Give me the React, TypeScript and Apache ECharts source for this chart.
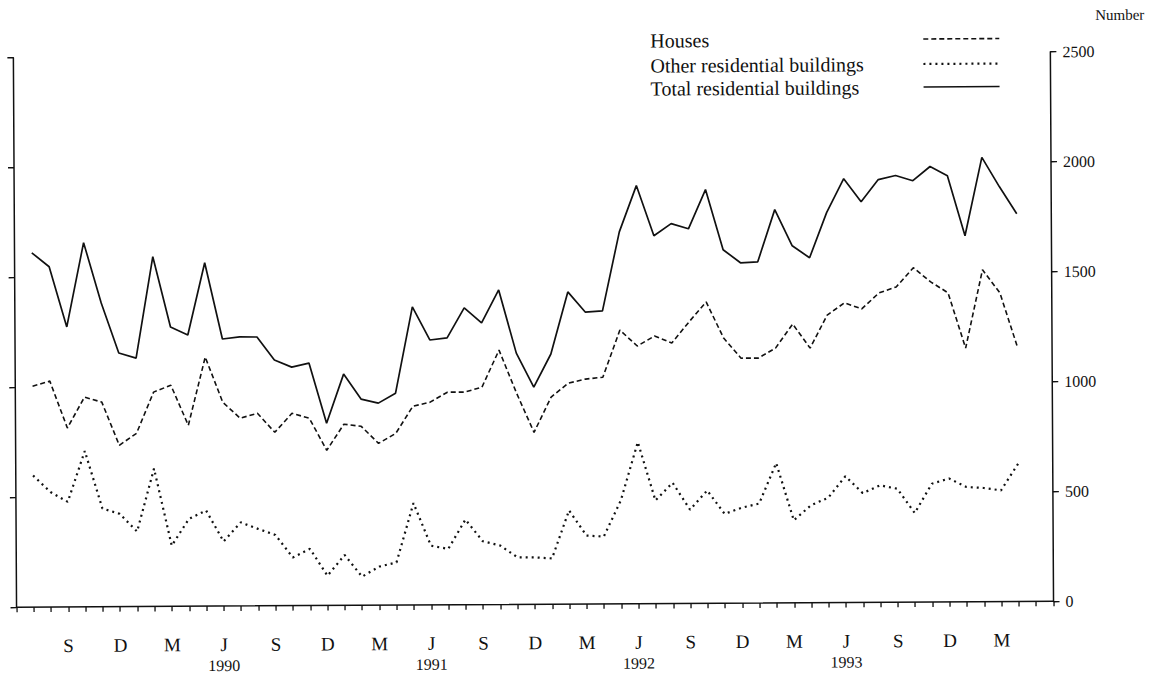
import React, { useEffect, useRef } from "react";
import * as echarts from "echarts";

// Months on the axis: June 1989 .. June 1994 (61 positions)
const MONTH_NAMES = ["Jan", "Feb", "Mar", "Apr", "May", "Jun", "Jul", "Aug", "Sep", "Oct", "Nov", "Dec"];
const START_YEAR = 1989;
const START_MONTH = 5; // June (0-based)
const AXIS_MONTHS = 61;
const categories: string[] = [];
for (let i = 0; i < AXIS_MONTHS; i++) {
  const m = (START_MONTH + i) % 12;
  const y = START_YEAR + Math.floor((START_MONTH + i) / 12);
  categories.push(`${MONTH_NAMES[m]} ${y}`);
}

// Tick labels shown under the axis
const monthLetters: Record<string, string> = { Sep: "S", Dec: "D", Mar: "M", Jun: "J" };
const yearLabelsForJune = ["1990", "1991", "1992", "1993"];

// Series values, July 1989 .. April 1994
const houses = [
  1005, 1028, 814, 954, 931, 734, 788, 975, 1006, 823,
  1133, 927, 854, 876, 789, 875, 852, 706, 824, 814,
  736, 781, 904, 922, 967, 967, 989, 1157, 961, 782,
  942, 1005, 1023, 1031, 1245, 1172, 1217, 1185, 1280, 1371,
  1206, 1114, 1114, 1159, 1268, 1158, 1308, 1363, 1335, 1407,
  1434, 1521, 1456, 1406, 1154, 1510, 1404, 1157,
];
const otherResidential = [
  599, 523, 478, 709, 447, 422, 341, 627, 276, 397,
  435, 294, 380, 350, 322, 219, 258, 135, 229, 130,
  175, 194, 463, 269, 254, 387, 288, 268, 214, 213,
  208, 426, 311, 306, 470, 735, 469, 549, 426, 513,
  406, 434, 452, 636, 375, 443, 477, 574, 497, 532,
  516, 405, 538, 561, 522, 517, 506, 627,
];
const totalResidential = [
  1612, 1548, 1274, 1657, 1382, 1154, 1130, 1591, 1271, 1234,
  1562, 1215, 1224, 1223, 1118, 1085, 1103, 829, 1052, 938,
  919, 964, 1356, 1205, 1214, 1350, 1281, 1431, 1143, 988,
  1138, 1420, 1328, 1333, 1692, 1902, 1673, 1728, 1704, 1882,
  1608, 1548, 1552, 1789, 1624, 1569, 1774, 1928, 1823, 1923,
  1941, 1917, 1981, 1939, 1665, 2021, 1888, 1764,
];
const seriesNames = ["Houses", "Other residential buildings", "Total residential buildings"];
const yTicks = [0, 500, 1000, 1500, 2000, 2500];

const FONT = '"Liberation Serif", "Times New Roman", serif';

function pad(values: number[]): (number | null)[] {
  // first axis position (June 1989) has no value; data ends April 1994
  const out: (number | null)[] = [null, ...values];
  while (out.length < AXIS_MONTHS) out.push(null);
  return out;
}

export default function App() {
  const ref = useRef<HTMLDivElement>(null);
  useEffect(() => {
    if (!ref.current) return;
    const chart = echarts.init(ref.current, undefined, { renderer: "svg" });
    let juneCount = 0;
    const labelFor: string[] = categories.map((c, i) => {
      if (i < 3 || i > 57 || i % 3 !== 0) return "";
      const mon = c.split(" ")[0];
      const letter = monthLetters[mon] || "";
      if (mon === "Jun") {
        const yl = yearLabelsForJune[juneCount++] || "";
        return `${letter}\n{y|${yl}}`;
      }
      return letter;
    });
    const black = "#111";
    const legendY = [41, 66, 89];
    const legendDash: (number[] | null)[] = [[5, 3], [2, 4], null];
    const graphic: any[] = [
      {
        type: "text",
        x: 1097,
        y: 18,
        style: { text: "Number", font: `15px ${FONT}`, fill: black, verticalAlign: "middle", align: "left" },
      },
    ];
    seriesNames.forEach((n, k) => {
      graphic.push({
        type: "text",
        x: 652,
        y: legendY[k],
        style: { text: n, font: `20px ${FONT}`, fill: black, verticalAlign: "middle", align: "left" },
      });
      graphic.push({
        type: "line",
        shape: { x1: 925, y1: legendY[k], x2: 1001, y2: legendY[k] },
        style: {
          stroke: black,
          lineWidth: k === 1 ? 2.2 : 1.6,
          lineDash: legendDash[k] || undefined,
        },
      });
    });

    const lineStyles = [
      { type: [5, 3], width: 1.6 },
      { type: [2, 4], width: 2.2 },
      { type: "solid", width: 1.7 },
    ];
    const dataSets = [houses, otherResidential, totalResidential];

    chart.setOption({
      animation: false,
      backgroundColor: "#fff",
      grid: { left: 15, right: 97, top: 54.5, bottom: 71, containLabel: false },
      xAxis: {
        type: "category",
        data: categories,
        boundaryGap: false,
        axisLine: { lineStyle: { color: black, width: 1.5 } },
        axisTick: { show: true, interval: 0, length: 5, lineStyle: { color: black, width: 1.3 } },
        axisLabel: {
          interval: 0,
          margin: 28,
          color: black,
          fontFamily: FONT,
          fontSize: 19,
          lineHeight: 21,
          formatter: (_v: string, i: number) => labelFor[i],
          rich: { y: { fontFamily: FONT, fontSize: 16, color: black, lineHeight: 21 } },
        },
        splitLine: { show: false },
      },
      yAxis: [
        {
          type: "value",
          position: "right",
          min: yTicks[0],
          max: yTicks[yTicks.length - 1],
          interval: 500,
          axisLine: { show: true, lineStyle: { color: black, width: 1.5 } },
          axisTick: { show: true, length: 6, lineStyle: { color: black, width: 1.3 } },
          axisLabel: {
            margin: 12,
            color: black,
            fontFamily: FONT,
            fontSize: 16,
            align: "left",
            formatter: (v: number) => String(v),
          },
          splitLine: { show: false },
        },
        {
          type: "value",
          position: "left",
          min: yTicks[0],
          max: yTicks[yTicks.length - 1],
          interval: 500,
          axisLine: { show: true, lineStyle: { color: black, width: 1.5 } },
          axisTick: { show: true, length: 6, lineStyle: { color: black, width: 1.3 } },
          axisLabel: { show: false },
          splitLine: { show: false },
        },
      ],
      graphic,
      series: dataSets.map((d, k) => ({
        name: seriesNames[k],
        type: "line",
        yAxisIndex: 0,
        data: pad(d),
        showSymbol: false,
        symbol: "none",
        connectNulls: false,
        lineStyle: { color: black, width: lineStyles[k].width, type: lineStyles[k].type as any },
      })),
    });
    return () => chart.dispose();
  }, []);
  return (
    <div
      ref={ref}
      style={{
        position: "absolute",
        left: 0,
        top: 0,
        width: 1149,
        height: 675,
        background: "#fff",
        transform: "rotate(-0.33deg)",
      }}
    />
  );
}
